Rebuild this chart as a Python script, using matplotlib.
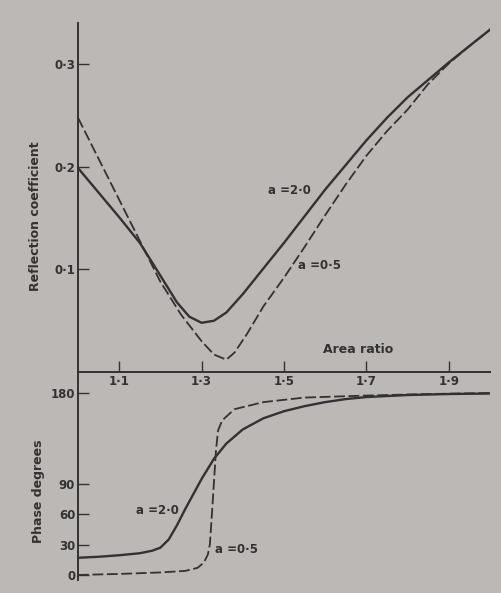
import matplotlib
matplotlib.use("Agg")
import matplotlib.pyplot as plt

# area ratio and reflection coefficient
refl_x = [1.00, 1.05, 1.10, 1.15, 1.20, 1.24, 1.27, 1.30, 1.33, 1.36, 1.40, 1.45,
          1.50, 1.55, 1.60, 1.65, 1.70, 1.75, 1.80, 1.85, 1.90, 1.95, 2.00]
refl_a20 = [0.199, 0.175, 0.151, 0.126, 0.094, 0.068, 0.054, 0.048, 0.050, 0.058, 0.076, 0.101,
            0.126, 0.152, 0.178, 0.202, 0.226, 0.248, 0.268, 0.285, 0.302, 0.318, 0.334]

refl_x05 = [1.00, 1.05, 1.10, 1.15, 1.20, 1.25, 1.30, 1.33, 1.36, 1.38, 1.41, 1.45,
            1.50, 1.55, 1.60, 1.65, 1.70, 1.75, 1.80, 1.85, 1.90, 1.95, 2.00]
refl_a05 = [0.248, 0.208, 0.168, 0.128, 0.088, 0.056, 0.030, 0.017, 0.012, 0.019, 0.037, 0.064,
            0.092, 0.122, 0.153, 0.183, 0.211, 0.235, 0.256, 0.281, 0.301, 0.318, 0.334]

# phase in degrees
phase_x20 = [1.00, 1.05, 1.10, 1.15, 1.18, 1.20, 1.22, 1.24, 1.26, 1.28, 1.30, 1.33,
             1.36, 1.40, 1.45, 1.50, 1.55, 1.60, 1.65, 1.70, 1.80, 1.90, 2.00]
phase_a20 = [17, 18, 19.5, 21.5, 24, 27, 35, 49, 65, 80, 95, 115,
             130, 144, 155, 162, 167, 171, 174, 176, 178, 179, 179.5]

phase_x05 = [1.00, 1.10, 1.20, 1.26, 1.29, 1.305, 1.315, 1.32, 1.325, 1.33, 1.335, 1.34,
             1.35, 1.38, 1.45, 1.55, 1.70, 1.85, 2.00]
phase_a05 = [0, 1, 2.5, 4, 7, 12, 20, 30, 60, 92, 124, 143,
             153, 164, 171, 175.5, 177.5, 179, 180]

x_ticks = [1.1, 1.3, 1.5, 1.7, 1.9]
x_labels = ["1·1", "1·3", "1·5", "1·7", "1·9"]
r_ticks = [0.1, 0.2, 0.3]
r_labels = ["0·1", "0·2", "0·3"]
p_ticks = [0, 30, 60, 90, 180]

ink = "#333131"
bg = "#bcb8b5"
plt.rcParams["font.family"] = "DejaVu Sans"
plt.rcParams["font.weight"] = "bold"

fig = plt.figure(figsize=(5.02, 5.93), dpi=100)
fig.patch.set_facecolor(bg)

ax1 = fig.add_axes([0.1554, 0.3727, 0.8207, 0.5877])
ax2 = fig.add_axes([0.1554, 0.0219, 0.8207, 0.3508])
for ax in (ax1, ax2):
    ax.set_facecolor("none")
    ax.set_xlim(1.0, 2.0)
    for s in ("top", "right"):
        ax.spines[s].set_visible(False)
    ax.spines["left"].set_color(ink)
    ax.spines["left"].set_linewidth(1.4)

ax1.plot(refl_x, refl_a20, color=ink, lw=1.7)
ax1.plot(refl_x05, refl_a05, color=ink, lw=1.3, dashes=(6, 2))
ax1.set_ylim(0, 0.34)
ax1.spines["bottom"].set_color(ink)
ax1.spines["bottom"].set_linewidth(1.4)
ax1.set_xticks(x_ticks)
ax1.set_xticklabels(x_labels)
ax1.set_yticks(r_ticks)
ax1.set_yticklabels(r_labels)
ax1.tick_params(direction="in", length=8, width=1, pad=2, colors=ink, labelsize=8.5)
ax1.text(1.68, 0.022, "Area ratio", fontsize=9, color=ink, ha="center", va="center")
ax1.text(1.513, 0.177, "a =2·0", fontsize=8.5, color=ink, ha="center", va="center")
ax1.text(1.585, 0.104, "a =0·5", fontsize=8.5, color=ink, ha="center", va="center")

ax2.plot(phase_x20, phase_a20, color=ink, lw=1.7)
ax2.plot(phase_x05, phase_a05, color=ink, lw=1.3, dashes=(6, 2))
ax2.set_ylim(-5, 200.8)
ax2.spines["bottom"].set_visible(False)
ax2.set_xticks([])
ax2.set_yticks(p_ticks)
ax2.tick_params(direction="in", length=8, width=1, pad=2, colors=ink, labelsize=8.5)
ax2.text(1.193, 64, "a =2·0", fontsize=8.5, color=ink, ha="center", va="center")
ax2.text(1.385, 25, "a =0·5", fontsize=8.5, color=ink, ha="center", va="center")

fig.text(0.070, 0.636, "Reflection coefficient", rotation=90, fontsize=9,
         color=ink, ha="center", va="center")
fig.text(0.076, 0.172, "Phase degrees", rotation=90, fontsize=9,
         color=ink, ha="center", va="center")

fig.savefig("out.png", dpi=100, facecolor=bg)
